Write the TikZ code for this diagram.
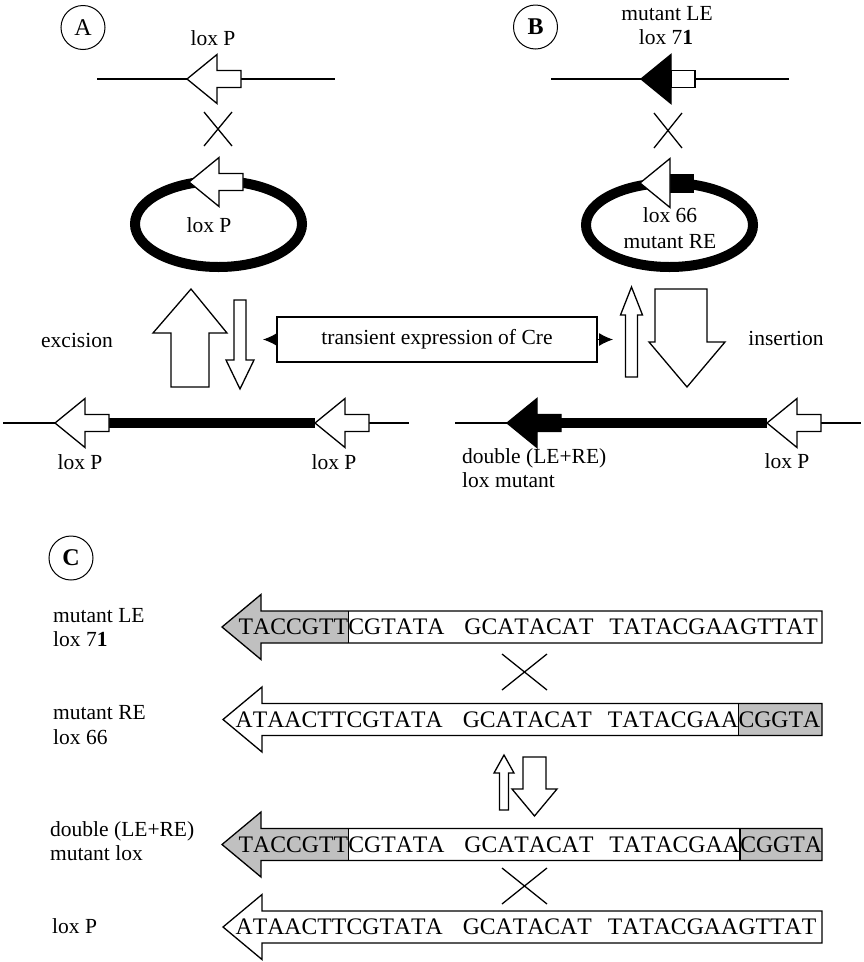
\documentclass[tikz,border=0pt]{standalone}
\usepackage{fontspec}
\setmainfont{Liberation Serif}
\newfontfamily\seqfont[Kerning=Off]{Liberation Serif}
\usetikzlibrary{arrows.meta,backgrounds}
\definecolor{seqgray}{RGB}{192,192,192}
\newcommand\seqgapA{\hspace{20pt}}
\newcommand\seqgapB{\hspace{16pt}}

\tikzset{
  lbl/.style={font=\fontsize{21.5}{24}\selectfont, inner sep=0pt},
  seqtxt/.style={font=\seqfont\fontsize{23.7}{26}\selectfont, inner sep=0pt, anchor=base west},
  tag/.style={circle, draw, line width=1pt, minimum size=44pt, inner sep=0pt,
              font=\fontsize{24}{26}\selectfont},
  dna/.style={line width=1.3pt},
  plasmid/.style={line width=10pt},
  blockarrow/.style={draw, fill=white, line width=1.3pt, line join=miter},
  seqline/.style={line width=1.3pt},
  % lox site pointing left, tip at the pic origin
  loxwhite/.pic={\draw[blockarrow] (0,0) -- (30,-24.5) -- (30,-8.5) -- (54,-8.5)
      -- (54,8.5) -- (30,8.5) -- (30,24.5) -- cycle;},
  loxblack/.pic={\draw[blockarrow, fill=black] (0,0) -- (30,-24.5) -- (30,-8.5) -- (54,-8.5)
      -- (54,8.5) -- (30,8.5) -- (30,24.5) -- cycle;},
  loxmutLE/.pic={\draw[blockarrow] (30,-8.5) rectangle (54,8.5);
      \draw[blockarrow, fill=black] (0,0) -- (30,-24.5) -- (30,24.5) -- cycle;},
  loxmutRE/.pic={\fill (30,-9.5) rectangle (54,9.5);
      \draw[blockarrow] (0,0) -- (30,-24.5) -- (30,24.5) -- cycle;},
  % long sequence arrow: tip x, centre y
  seqbody/.style 2 args={insert path={(#1,#2) -- (#1+39,#2-32.5) -- (#1+39,#2-16)
      -- (822,#2-16) -- (822,#2+16) -- (#1+39,#2+16) -- (#1+39,#2+32.5) -- cycle}},
  crossing/.style={line width=1.3pt},
}

\begin{document}
\begin{tikzpicture}[x=1pt,y=-1pt]
\useasboundingbox (0,0) rectangle (863,962);

% ---------------- panel A ----------------
\node[tag] (tagA) at (83,27.5) {A};
\node[lbl, anchor=base] (lblAtop) at (213,45) {lox P};
\coordinate (aL) at (97,79); \coordinate (aR) at (335,79);
\draw[dna] (aL) -- (aR);
\pic at (187,79) {loxwhite};
\draw[crossing] (204,112) -- (232,146) (204,146) -- (232,112);
\draw[plasmid] (218.5,224) ellipse [x radius=83.5pt, y radius=43pt];
\pic at (189,182) {loxwhite};
\node[lbl, anchor=base] (lblAring) at (209,232) {lox P};

% ---------------- panel B ----------------
\node[tag, font=\fontsize{24}{26}\selectfont\bfseries] (tagB) at (535.5,27) {B};
\node[lbl, anchor=base] (lblB1) at (667,20) {mutant LE};
\node[lbl, anchor=base] (lblB2) at (666,44) {lox 7\textbf{1}};
\coordinate (bL) at (551,79); \coordinate (bR) at (789,79);
\draw[dna] (bL) -- (bR);
\pic at (641,79) {loxmutLE};
\draw[crossing] (654,113) -- (682,148) (654,148) -- (682,113);
\draw[plasmid] (669.5,225) ellipse [x radius=83.5pt, y radius=42pt];
\pic at (640,183) {loxmutRE};
\node[lbl, anchor=base] (lblBr1) at (670,222) {lox 66};
\node[lbl, anchor=base] (lblBr2) at (670,248) {mutant RE};

% ---------------- recombination arrows ----------------
\draw[blockarrow] (191,289) -- (227,333) -- (209,333) -- (209,387) -- (171,387)
   -- (171,333) -- (153,333) -- cycle;
\draw[blockarrow] (240,389) -- (254,360) -- (246,360) -- (246,300) -- (234,300)
   -- (234,360) -- (226,360) -- cycle;
\draw[blockarrow] (631.5,287) -- (642.5,315) -- (637.5,315) -- (637.5,377) -- (625.5,377)
   -- (625.5,315) -- (620.5,315) -- cycle;
\draw[blockarrow] (687,387) -- (725,342) -- (707,342) -- (707,289) -- (655,289)
   -- (655,342) -- (649,342) -- cycle;

\node[lbl, anchor=base] (excision) at (77,347) {excision};
\node[lbl, anchor=base] (insertion) at (786,345) {insertion};

\coordinate (creL) at (263,339.5); \coordinate (creR) at (613,339.5);
\node[draw, line width=1.3pt, fill=white, minimum width=320pt, minimum height=45pt, lbl]
  (cre) at (437,339.5) {transient expression of Cre};
\begin{pgfonlayer}{background}
\draw[-{Latex[length=14pt,width=13pt]}, line width=1pt] (cre.center) -- (creL);
\draw[-{Latex[length=14pt,width=13pt]}, line width=1pt] (cre.center) -- (creR);
\end{pgfonlayer}

% ---------------- bottom: excision product ----------------
\coordinate (cL) at (3,423); \coordinate (cR) at (409,423);
\draw[dna] (cL) -- (cR);
\draw[plasmid] (109,423) -- (315,423);
\pic at (55,423) {loxwhite};
\pic at (315,423) {loxwhite};
\node[lbl, anchor=base] (lblC1) at (80,469) {lox P};
\node[lbl, anchor=base] (lblC2) at (334,469) {lox P};

% ---------------- bottom: insertion product ----------------
\coordinate (dL) at (455,423); \coordinate (dR) at (861,423);
\draw[dna] (dL) -- (dR);
\draw[plasmid] (561,423) -- (767,423);
\pic at (507,423) {loxblack};
\pic at (767,423) {loxwhite};
\node[lbl, anchor=base west] (lblD1) at (462,463) {double (LE+RE)};
\node[lbl, anchor=base west] (lblD2) at (462,487) {lox mutant};
\node[lbl, anchor=base] (lblD3) at (787,468) {lox P};

% ---------------- panel C ----------------
\node[tag, font=\fontsize{24}{26}\selectfont\bfseries] (tagC) at (71,558) {C};

\node[lbl, anchor=base west] (r1l1) at (53,622) {mutant LE};
\node[lbl, anchor=base west] (r1l2) at (53,646) {lox 7\textbf{1}};
\node[lbl, anchor=base west] (r2l1) at (53,719) {mutant RE};
\node[lbl, anchor=base west] (r2l2) at (53,744) {lox 66};
\node[lbl, anchor=base west] (r3l1) at (50,836) {double (LE+RE)};
\node[lbl, anchor=base west] (r3l2) at (50,860) {mutant lox};
\node[lbl, anchor=base west] (r4l1) at (52,933) {lox P};

% row 1: lox 71
\node[seqtxt] (s1a) at (238.5,634.8) {TACCGTT};
\node[seqtxt] (s1b) at (s1a.base east) {CGTATA\seqgapA GCATACAT\seqgapB TATACGAA};
\node[seqtxt] (s1c) at (s1b.base east) {GTTAT};
\begin{pgfonlayer}{background}
\fill[white, seqbody={222}{627}];
\begin{scope}
  \clip (0,0) rectangle (s1a.east |- 0,962);
  \fill[seqgray, seqbody={222}{627}];
\end{scope}
\draw[seqline] (s1a.east |- 0,611) -- (s1a.east |- 0,643);
\draw[seqline, line join=miter, seqbody={222}{627}];
\end{pgfonlayer}

\draw[crossing] (502,654) -- (547,690) (502,690) -- (547,654);

% row 2: lox 66
\node[seqtxt] (s2a) at (235.5,727.3) {ATAACTT};
\node[seqtxt] (s2b) at (s2a.base east) {CGTATA\seqgapA GCATACAT\seqgapB TATACGAA};
\node[seqtxt] (s2c) at (s2b.base east) {CGGTA};
\begin{pgfonlayer}{background}
\fill[white, seqbody={223}{719.5}];
\begin{scope}
  \clip (s2c.west |- 0,0) rectangle (863,962);
  \fill[seqgray, seqbody={223}{719.5}];
\end{scope}
\draw[seqline] (s2c.west |- 0,703.5) -- (s2c.west |- 0,735.5);
\draw[seqline, line join=miter, seqbody={223}{719.5}];
\end{pgfonlayer}

% reversible reaction arrows
\draw[blockarrow] (504,755) -- (514,773) -- (508.5,773) -- (508.5,810) -- (499.5,810)
   -- (499.5,773) -- (494,773) -- cycle;
\draw[blockarrow] (534.5,816) -- (557,789) -- (546,789) -- (546,757) -- (523,757)
   -- (523,789) -- (512,789) -- cycle;

% row 3: double mutant
\node[seqtxt] (s3a) at (238.5,852.3) {TACCGTT};
\node[seqtxt] (s3b) at (s3a.base east) {CGTATA\seqgapA GCATACAT\seqgapB TATACGAA};
\node[seqtxt] (s3c) at (s3b.base east) {CGGTA};
\begin{pgfonlayer}{background}
\fill[white, seqbody={222}{844.5}];
\begin{scope}
  \clip (0,0) rectangle (s3a.east |- 0,962);
  \fill[seqgray, seqbody={222}{844.5}];
\end{scope}
\begin{scope}
  \clip (s3c.west |- 0,0) rectangle (863,962);
  \fill[seqgray, seqbody={222}{844.5}];
\end{scope}
\draw[seqline] (s3a.east |- 0,828.5) -- (s3a.east |- 0,860.5);
\draw[seqline] (s3c.west |- 0,828.5) -- (s3c.west |- 0,860.5);
\draw[seqline, line join=miter, seqbody={222}{844.5}];
\end{pgfonlayer}

\draw[crossing] (502,868) -- (547,904) (502,904) -- (547,868);

% row 4: lox P
\node[seqtxt] (s4a) at (235.5,934.8) {ATAACTT};
\node[seqtxt] (s4b) at (s4a.base east) {CGTATA\seqgapA GCATACAT\seqgapB TATACGAA};
\node[seqtxt] (s4c) at (s4b.base east) {GTTAT};
\begin{pgfonlayer}{background}
\fill[white, seqbody={223}{927}];
\draw[seqline, line join=miter, seqbody={223}{927}];
\end{pgfonlayer}

\end{tikzpicture}
\end{document}
